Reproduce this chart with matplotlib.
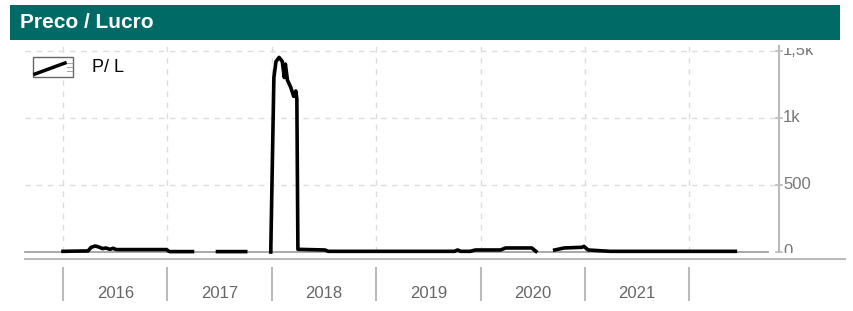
import numpy as np
import matplotlib.pyplot as plt
from matplotlib.patches import Rectangle
from matplotlib.lines import Line2D

plt.rcParams['font.family'] = ['Liberation Sans', 'DejaVu Sans']

# P/L series (decimal years), NaN = gap
dates = [2016.00, 2016.24, 2016.27, 2016.31, 2016.35, 2016.38, 2016.41, 2016.45, 2016.48, 2016.51, 2016.99,
         2017.02, 2017.24, 2017.245,
         2017.48, 2017.75, 2017.755,
         2017.99, 2018.02, 2018.04, 2018.07, 2018.10, 2018.12, 2018.13, 2018.15, 2018.18, 2018.21,
         2018.23, 2018.24, 2018.25, 2018.51, 2018.54, 2019.75, 2019.78, 2019.81, 2019.90, 2019.95,
         2020.19, 2020.24, 2020.49, 2020.53, 2020.535,
         2020.71, 2020.80, 2020.97, 2020.99, 2021.03, 2021.24, 2022.44]
pl = [5, 8, 35, 45, 35, 25, 30, 20, 28, 18, 18,
      3, 3, np.nan,
      3, 3, np.nan,
      0, 1300, 1420, 1450, 1420, 1300, 1400, 1280, 1230, 1160,
      1200, 1140, 20, 15, 5, 5, 15, 5, 5, 15,
      15, 30, 30, 5, np.nan,
      15, 30, 35, 42, 15, 5, 5]

years = [2016, 2017, 2018, 2019, 2020, 2021]
yticks = [0, 500, 1000, 1500]
yticklabels = ['0', '500', '1k', '1,5k']

W, H = 854, 311
fig = plt.figure(figsize=(W / 100, H / 100), dpi=100)

def fx(px):
    return px / W

def fy(py):
    return 1 - py / H

ax = fig.add_axes([fx(25), fy(252), fx(754), (252 - 46) / H])
x0 = 2016 - 38 / 104.4
x1 = 2016 + 716 / 104.4
ax.set_xlim(x0, x1)
ax.set_ylim(0, 1535)

grid = '#dddddd'
for v in yticks[1:]:
    ax.axhline(v, color=grid, lw=1, ls=(0, (4, 4)), zorder=0)
for yr in years + [2022]:
    ax.axvline(yr, color=grid, lw=1, ls=(0, (4, 4)), zorder=0)
ax.plot([x0, 2022.75], [0, 0], color='#999999', lw=1.2, zorder=1, clip_on=False)

ax.plot(dates, pl, color='black', lw=2.6, zorder=3, solid_joinstyle='round', clip_on=False)

for s in ax.spines.values():
    s.set_visible(False)
ax.set_xticks([])
ax.set_yticks([])

# right axis, labels clipped to the plot band
clip = Rectangle((fx(770), fy(253)), fx(84), (253 - 48) / H, transform=fig.transFigure,
                 facecolor='none', edgecolor='none')
ax.plot([1, 1], [0, 1.0], transform=ax.transAxes, color='#bbbbbb', lw=1.5, clip_on=False)
for v, lab in zip(yticks, yticklabels):
    ax.plot([x1 - 0.03, x1 + 0.03], [v, v], color='#bbbbbb', lw=1.2, clip_on=False)
    t = ax.text(x1 + 0.04, v, lab, color='#777777', fontsize=12, va='center', ha='left')
    t.set_clip_on(True)
    t.set_clip_path(clip)

# bottom time axis
fig.lines.append(Line2D([fx(25), fx(845)], [fy(259), fy(259)], transform=fig.transFigure,
                        color='#bbbbbb', lw=1.5))
xt = ax.get_xaxis_transform()
for yr in years + [2022]:
    ax.plot([yr, yr], [(252 - 268) / 206, (252 - 300) / 206], transform=xt, color='#bbbbbb',
            lw=1.5, clip_on=False)
for yr in years:
    ax.text(yr + 0.5, (252 - 293) / 206, str(yr), transform=xt, color='#666666', fontsize=12,
            ha='center', va='center')

# legend
fig.patches.append(Rectangle((fx(33), fy(77)), fx(40), 20 / H, transform=fig.transFigure,
                             facecolor='white', edgecolor='#666666', lw=1))
fig.lines.append(Line2D([fx(35), fx(65)], [fy(74), fy(63)], transform=fig.transFigure,
                        color='black', lw=2.5))
for py in [63, 67, 71]:
    fig.lines.append(Line2D([fx(67), fx(72)], [fy(py), fy(py)], transform=fig.transFigure,
                            color='#aaaaaa', lw=0.8))
fig.text(fx(92), fy(68), 'P/ L', fontsize=13, va='center', color='black')

# title bar on top of everything
tax = fig.add_axes([fx(10), fy(40), fx(830), 35 / H], zorder=10)
tax.set_facecolor('#006b66')
tax.set_xticks([])
tax.set_yticks([])
for s in tax.spines.values():
    s.set_visible(False)
tax.text(10 / 830, 0.5, 'Preco / Lucro', transform=tax.transAxes, color='white', fontsize=15,
         fontweight='bold', va='center')

fig.savefig('out.png', dpi=100)
